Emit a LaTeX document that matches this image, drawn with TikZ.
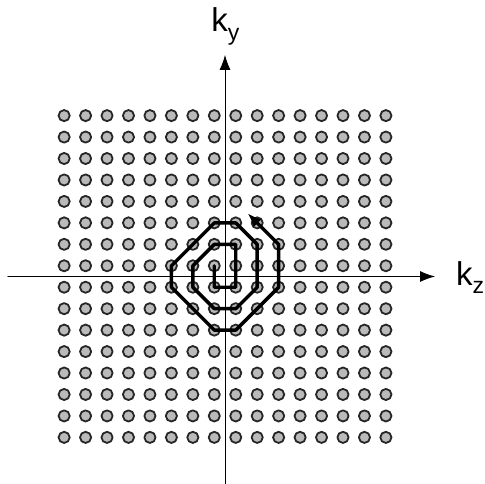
\documentclass[tikz,border=0pt]{standalone}
\usepackage{fontspec}
\setmainfont{Liberation Sans}
\usetikzlibrary{arrows.meta}
\newcommand{\klabel}[2]{#1\raisebox{-0.25em}{\fontsize{23}{23}\selectfont #2}}
\begin{document}
\begin{tikzpicture}[x=21.45pt, y=21.45pt, line join=round, line cap=round,
  font=\fontsize{33}{36}\selectfont,
  kdot/.style={fill=black!27, draw=black!85, line width=1.8pt},
  traj/.style={line width=3.4pt, -{Latex[length=14pt,width=11pt]}},
  axis/.style={line width=0.9pt, -{Latex[length=15pt,width=11pt]}}]
  \useasboundingbox (-10.49,-9.67) rectangle (12.12,12.89);
  % k-space axes
  \draw[axis] (-10.12,0) -- (9.79,0);
  \draw[axis] (0,-9.7) -- (0,10.33);
  % sampling grid
  \foreach \i in {0,...,15}
    \foreach \j in {0,...,15}
      \filldraw[kdot] (\i-7.5,\j-7.5) circle (0.26);
  % spiral trajectory
  \draw[traj] (-0.5,0.5) -- (-0.5,-0.5) -- (0.5,-0.5) -- (0.5,1.5) -- (-0.5,1.5)
    -- (-1.5,0.5) -- (-1.5,-0.5) -- (-0.5,-1.5) -- (0.5,-1.5) -- (1.5,-0.5)
    -- (1.5,1.5) -- (0.5,2.5) -- (-0.5,2.5) -- (-2.5,0.5) -- (-2.5,-0.5)
    -- (-0.5,-2.5) -- (0.5,-2.5) -- (2.5,-0.5) -- (2.5,1.5) -- (1.05,2.95);
  \node[anchor=base west, inner sep=0pt] (ky) at (-0.65,11.40) {\klabel{k}{y}};
  \node[anchor=base west, inner sep=0pt] (kz) at (10.77,-0.40) {\klabel{k}{z}};
\end{tikzpicture}
\end{document}
